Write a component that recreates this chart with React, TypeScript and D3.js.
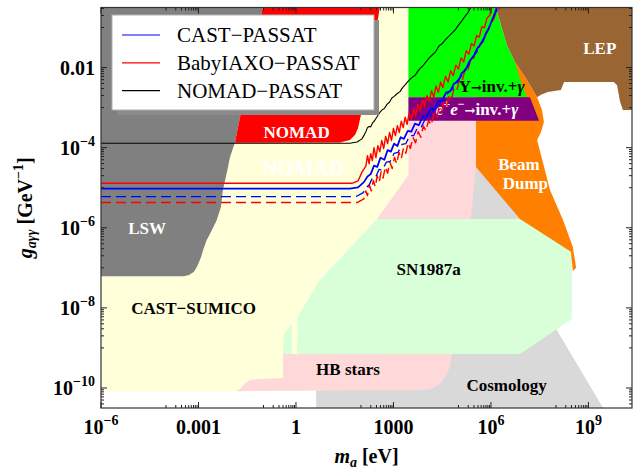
import * as d3 from "d3";

// all region / curve data are [log10(m_a / eV), log10(g_aγγ / GeV^-1)]
type Pt = [number, number];

const WIDTH = 634;
const HEIGHT = 475;
const plot = { left: 101, right: 632, top: 7.5, bottom: 408 };

const massExp: [number, number] = [-6, 10.34];
const couplingExp: [number, number] = [-10.5, -0.5];

const xMajor = [-6, -3, 0, 3, 6, 9];
const xTickText: [string, string][] = [
  ["10", "−6"],
  ["0.001", ""],
  ["1", ""],
  ["1000", ""],
  ["10", "6"],
  ["10", "9"],
];
const yMajor = [-10, -8, -6, -4, -2, 0];
const yTickText: [string, string][] = [
  ["10", "−10"],
  ["10", "−8"],
  ["10", "−6"],
  ["10", "−4"],
  ["0.01", ""],
  ["", ""],
];

// excluded regions
const cosmology: Pt[] = [
  [0.62, -10.5], [0.62, -9.8], [5.54, -4.06], [6.92, -5.78], [7.75, -8.18], [9.45, -10.5],
];
const castSumico: Pt[] = [
  [-6, -0.5], [3.46, -0.5], [3.46, -4.68], [2.49, -5.78], [0.74, -7.3], [0.06, -8.2],
  [0.03, -9.75], [-1.42, -9.8], [-1.72, -10.08], [-6, -10.08],
];
const hbStars: Pt[] = [
  [-1.82, -10.08], [-1.69, -10.0], [-1.57, -9.88], [-1.42, -9.8], [-1.2, -9.78],
  [-0.4, -9.75], [-0.4, -9.15], [4.8, -9.15], [4.74, -9.45], [4.62, -9.7],
  [4.43, -9.9], [4.12, -10.03], [3.82, -10.05], [-1.82, -10.08],
];
const pinkUpper: Pt[] = [
  [3.46, -2.74], [5.54, -2.74], [5.54, -4.48], [5.38, -5.78], [2.49, -5.78], [3.46, -4.68],
];
const sn1987a: Pt[] = [
  [-0.4, -9.15], [6.89, -9.15], [8.49, -8.28], [8.49, -6.56], [6.89, -5.78],
  [2.49, -5.78], [0.74, -7.3], [0.06, -8.2], [0.03, -9.15], [-0.12, -9.15],
  [-0.12, -8.4], [-0.37, -8.65],
];
const lsw: Pt[] = [
  [-6, -0.5], [-1.02, -0.5], [-1.72, -3.23], [-1.88, -3.88], [-2.03, -4.23],
  [-2.13, -4.63], [-2.25, -5.06], [-2.31, -5.48], [-2.44, -5.81], [-2.59, -6.06],
  [-2.75, -6.31], [-2.86, -6.56], [-2.92, -6.73], [-2.98, -6.85], [-3.05, -6.98],
  [-3.14, -7.1], [-3.29, -7.18], [-3.45, -7.21], [-6, -7.21],
];
const nomad: Pt[] = [
  [-1.02, -0.5], [2.58, -0.5], [2.12, -2.81], [2.0, -3.18], [1.91, -3.51],
  [1.82, -3.68], [1.66, -3.81], [1.35, -3.87], [-1.88, -3.88], [-1.72, -3.23],
];
const beamDump: Pt[] = [
  [5.54, -2.74], [6.43, -1.56], [6.74, -1.86], [7.11, -2.31], [7.42, -2.74],
  [7.57, -3.06], [7.63, -3.36], [7.54, -3.61], [7.42, -3.81], [7.82, -5.06],
  [8.22, -5.81], [8.52, -6.48], [8.62, -7.0], [8.52, -7.08], [8.46, -6.6],
  [6.89, -5.78], [5.54, -4.48],
];
const upsilon: Pt[] = [
  [3.46, -0.5], [6.15, -0.5], [6.49, -1.44], [6.74, -1.86], [6.9, -2.31],
  [7.11, -2.74], [3.46, -2.74],
];
const eeInv: Pt[] = [
  [3.46, -2.74], [7.2, -2.74], [7.48, -3.33], [3.46, -3.33],
];
const lep: Pt[] = [
  [6.15, -0.5], [10.34, -0.5], [10.34, -3.06], [10.06, -3.06], [9.97, -2.84],
  [9.88, -2.44], [9.78, -2.36], [8.25, -2.36], [8.15, -2.56], [7.75, -2.61],
  [7.54, -2.68], [7.42, -2.74], [7.11, -2.31], [6.74, -1.86], [6.49, -1.44],
];

// PASSAT projections
const castPassat: Pt[] = [
  [-6, -5.02], [1.66, -5.02], [1.91, -4.99], [2.09, -4.86], [2.2, -4.72], [2.3, -4.66],
  [2.4, -4.45], [2.5, -4.48], [2.6, -4.25], [2.72, -4.3], [2.82, -4.06], [2.92, -4.1],
  [3.02, -3.9], [3.12, -3.96], [3.22, -3.74], [3.32, -3.78], [3.44, -3.58], [3.55, -3.6],
  [3.66, -3.4], [3.78, -3.44], [3.9, -3.22], [4.02, -3.24], [4.14, -3.02], [4.26, -3.04],
  [4.38, -2.84], [4.5, -2.82], [4.62, -2.62], [4.74, -2.6], [4.86, -2.4], [4.98, -2.36],
  [5.1, -2.14], [5.22, -2.06], [5.34, -1.84], [5.46, -1.72], [5.58, -1.52], [5.7, -1.4],
  [5.82, -1.2], [5.94, -1.0], [6.04, -0.8], [6.12, -0.64], [6.18, -0.5],
];
const castPassatDashed: Pt[] = [
  [-6, -5.22], [1.85, -5.22], [2.06, -5.13], [2.16, -5.0], [2.26, -4.92], [2.36, -4.74],
  [2.46, -4.72], [2.56, -4.54], [2.66, -4.56], [2.78, -4.36], [2.9, -4.34], [3.02, -4.14],
  [3.14, -4.12], [3.26, -3.92], [3.38, -3.9], [3.5, -3.7], [3.62, -3.7], [3.74, -3.5],
  [3.86, -3.48], [3.98, -3.28], [4.1, -3.26], [4.22, -3.06], [4.34, -3.04], [4.46, -2.84],
  [4.58, -2.8], [4.7, -2.6], [4.82, -2.54], [4.94, -2.34], [5.06, -2.26], [5.18, -2.06],
  [5.3, -1.96], [5.42, -1.76], [5.54, -1.64], [5.66, -1.44], [5.78, -1.3], [5.9, -1.08],
  [6.0, -0.9], [6.1, -0.7], [6.22, -0.5],
];
const babyIaxoPassat: Pt[] = [
  [-6, -4.89], [1.72, -4.89], [1.91, -4.83], [2.03, -4.61], [2.15, -4.46], [2.2, -4.2],
  [2.25, -4.4], [2.3, -4.15], [2.35, -4.32], [2.4, -4.0], [2.46, -4.25], [2.52, -3.95],
  [2.58, -4.1], [2.64, -3.82], [2.7, -4.02], [2.76, -3.72], [2.82, -3.9], [2.88, -3.62],
  [2.94, -3.82], [3.0, -3.52], [3.06, -3.7], [3.12, -3.45], [3.18, -3.62], [3.24, -3.34],
  [3.3, -3.5], [3.36, -3.24], [3.42, -3.42], [3.48, -3.14], [3.55, -3.3], [3.62, -3.02],
  [3.68, -3.2], [3.75, -2.92], [3.82, -3.08], [3.89, -2.8], [3.96, -2.98], [4.03, -2.7],
  [4.1, -2.84], [4.17, -2.58], [4.24, -2.74], [4.31, -2.46], [4.38, -2.62], [4.45, -2.36],
  [4.52, -2.5], [4.6, -2.22], [4.68, -2.36], [4.76, -2.08], [4.84, -2.2], [4.92, -1.94],
  [5.0, -2.04], [5.08, -1.76], [5.16, -1.86], [5.24, -1.58], [5.32, -1.66], [5.4, -1.4],
  [5.48, -1.46], [5.56, -1.2], [5.64, -1.24], [5.72, -0.98], [5.8, -1.0], [5.88, -0.76],
  [5.96, -0.7], [6.02, -0.5],
];
const babyIaxoPassatDashed: Pt[] = [
  [-6, -5.37], [1.88, -5.37], [2.09, -5.28], [2.15, -5.08], [2.2, -5.2], [2.26, -4.94],
  [2.32, -5.08], [2.38, -4.82], [2.44, -4.98], [2.5, -4.7], [2.56, -4.86], [2.62, -4.6],
  [2.68, -4.76], [2.75, -4.48], [2.82, -4.64], [2.89, -4.36], [2.96, -4.52], [3.03, -4.24],
  [3.1, -4.4], [3.17, -4.12], [3.24, -4.28], [3.31, -4.0], [3.38, -4.14], [3.45, -3.88],
  [3.52, -4.02], [3.6, -3.74], [3.68, -3.88], [3.76, -3.6], [3.84, -3.74], [3.92, -3.46],
  [4.0, -3.58], [4.08, -3.32], [4.16, -3.44], [4.24, -3.16], [4.32, -3.28], [4.4, -3.0],
  [4.48, -3.1], [4.56, -2.84], [4.64, -2.94], [4.72, -2.66], [4.8, -2.74], [4.88, -2.48],
  [4.96, -2.54], [5.04, -2.28], [5.12, -2.32], [5.2, -2.06], [5.28, -2.1], [5.36, -1.84],
  [5.44, -1.86], [5.52, -1.6], [5.6, -1.62], [5.68, -1.38], [5.76, -1.36], [5.84, -1.12],
  [5.92, -1.06], [6.0, -0.88], [6.08, -0.8], [6.16, -0.62], [6.22, -0.6], [6.28, -0.5],
];
const nomadPassat: Pt[] = [
  [-6, -3.89], [1.66, -3.89], [1.88, -3.86], [2.03, -3.78], [2.1, -3.68], [2.15, -3.6],
  [2.2, -3.5], [2.25, -3.47], [2.3, -3.48], [2.36, -3.38], [2.43, -3.31], [2.5, -3.22],
  [2.58, -3.12], [2.66, -3.05], [2.72, -3.02], [2.8, -2.92], [2.88, -2.86], [2.95, -2.76],
  [3.02, -2.72], [3.1, -2.66], [3.2, -2.6], [3.28, -2.5], [3.35, -2.44], [3.42, -2.37],
  [3.5, -2.3], [3.58, -2.24], [3.66, -2.2], [3.74, -2.1], [3.82, -2.02], [3.9, -1.96],
  [4.0, -1.86], [4.1, -1.76], [4.2, -1.68], [4.3, -1.6], [4.4, -1.46], [4.5, -1.4],
  [4.6, -1.3], [4.7, -1.22], [4.8, -1.14], [4.9, -1.06], [5.0, -0.94], [5.1, -0.84],
  [5.2, -0.72], [5.3, -0.62], [5.38, -0.5],
];

const regions = [
  { name: "cosmology", pts: cosmology, color: "#d9d9d9" },
  { name: "cast", pts: castSumico, color: "#ffffd9" },
  { name: "hb", pts: hbStars, color: "#ffd9d9" },
  { name: "pink", pts: pinkUpper, color: "#ffd9d9" },
  { name: "sn", pts: sn1987a, color: "#d9ffd9" },
  { name: "lsw", pts: lsw, color: "#808080" },
  { name: "nomad", pts: nomad, color: "#ff0000" },
  { name: "beam", pts: beamDump, color: "#ff8000" },
  { name: "upsilon", pts: upsilon, color: "#00ff00" },
  { name: "ee", pts: eeInv, color: "#800080" },
  { name: "lep", pts: lep, color: "#996633" },
];

const curves = [
  { pts: nomadPassat, color: "#000000", dash: "", w: 1.1 },
  { pts: babyIaxoPassatDashed, color: "#ff0000", dash: "10,5", w: 1.4 },
  { pts: babyIaxoPassat, color: "#ff0000", dash: "", w: 1.4 },
  { pts: castPassatDashed, color: "#0000ff", dash: "10,5", w: 1.3 },
  { pts: castPassat, color: "#0000ff", dash: "", w: 1.8 },
];

const legendItems = [
  { label: "CAST−PASSAT", color: "#0000ff" },
  { label: "BabyIAXO−PASSAT", color: "#ff0000" },
  { label: "NOMAD−PASSAT", color: "#000000" },
];

type Label = { text: string; at: Pt; fill: string; size: number };
const regionLabels: Label[] = [
  { text: "LSW", at: [-4.58, -6.16], fill: "#ffffff", size: 17 },
  { text: "NOMAD", at: [0.02, -3.75], fill: "#ffffff", size: 17 },
  { text: "NOMAD", at: [0.22, -4.68], fill: "#ffffff", size: 21 },
  { text: "CAST−SUMICO", at: [-3.15, -8.15], fill: "#000000", size: 17 },
  { text: "SN1987a", at: [4.08, -7.18], fill: "#000000", size: 17 },
  { text: "HB stars", at: [1.6, -9.68], fill: "#000000", size: 17 },
  { text: "Cosmology", at: [6.48, -10.08], fill: "#000000", size: 17 },
  { text: "Beam", at: [6.86, -4.56], fill: "#ffffff", size: 17 },
  { text: "Dump", at: [7.06, -5.03], fill: "#ffffff", size: 17 },
  { text: "LEP", at: [9.35, -1.66], fill: "#ffffff", size: 17 },
];
const upsilonLabelAt: Pt = [6.02, -2.61];
const eeLabelAt: Pt = [5.57, -3.18];

const FONT = "'Liberation Serif', 'Times New Roman', serif";

export default function App() {
  const x = d3
    .scaleLog()
    .domain([10 ** massExp[0], 10 ** massExp[1]])
    .range([plot.left, plot.right]);
  const y = d3
    .scaleLog()
    .domain([10 ** couplingExp[0], 10 ** couplingExp[1]])
    .range([plot.bottom, plot.top]);

  const px = (p: Pt) => x(10 ** p[0]);
  const py = (p: Pt) => y(10 ** p[1]);
  const line = d3.line<Pt>().x(px).y(py);
  const poly = (pts: Pt[]) => line(pts) + "Z";

  const inX = (e: number) => e >= massExp[0] - 1e-9 && e <= massExp[1];
  const inY = (e: number) => e >= couplingExp[0] - 1e-9 && e <= couplingExp[1];
  const minorOf = (majors: number[], ok: (e: number) => boolean) =>
    majors
      .flatMap((k) => d3.range(1, 10).map((j) => Math.log10(j) + k - 1))
      .filter(ok);
  const xMinor = minorOf(xMajor, inX);
  const yMinor = minorOf(yMajor, inY);

  const majorLen = 6;
  const minorLen = 3;

  return (
    <svg
      width={WIDTH}
      height={HEIGHT}
      style={{ position: "absolute", left: 0, top: 0, background: "#fff" }}
      fontFamily={FONT}
    >
      <defs>
        <clipPath id="plotClip">
          <rect
            x={plot.left}
            y={plot.top}
            width={plot.right - plot.left}
            height={plot.bottom - plot.top}
          />
        </clipPath>
      </defs>

      <g clipPath="url(#plotClip)">
        {regions.map((r) => (
          <path key={r.name} d={poly(r.pts)} fill={r.color} stroke="none" />
        ))}

        {regionLabels.map((l, i) => (
          <text
            key={i}
            x={px(l.at)}
            y={py(l.at)}
            textAnchor="middle"
            fontWeight="bold"
            fontSize={l.size}
            fill={l.fill}
          >
            {l.text}
          </text>
        ))}
        <text
          x={px(upsilonLabelAt)}
          y={py(upsilonLabelAt)}
          textAnchor="middle"
          fontWeight="bold"
          fontSize={17}
          fill="#000"
        >
          Υ<tspan fontFamily="'DejaVu Serif'" fontSize={13}>→</tspan>inv.+
          <tspan fontStyle="italic">γ</tspan>
        </text>
        <text
          x={px(eeLabelAt)}
          y={py(eeLabelAt)}
          textAnchor="middle"
          fontWeight="bold"
          fontSize={17}
          fill="#fff"
        >
          <tspan fontStyle="italic">e</tspan>
          <tspan fontSize={12} dy={-7}>+</tspan>
          <tspan fontStyle="italic" dy={7}>e</tspan>
          <tspan fontSize={12} dy={-7}>−</tspan>
          <tspan dy={7} fontFamily="'DejaVu Serif'" fontSize={13}>→</tspan>
          <tspan>inv.+</tspan>
          <tspan fontStyle="italic">γ</tspan>
        </text>

        {curves.map((c, i) => (
          <path
            key={i}
            d={line(c.pts) ?? ""}
            fill="none"
            stroke={c.color}
            strokeWidth={c.w}
            strokeDasharray={c.dash || undefined}
            strokeLinejoin="round"
          />
        ))}
      </g>

      {/* legend */}
      <g>
        <rect x={117} y={20} width={262} height={95} fill="#8a8a8a" />
        <rect x={112} y={15} width={262} height={95} fill="#fff" stroke="#b0b0b0" strokeWidth={1} />
        {legendItems.map((it, i) => (
          <g key={it.label} transform={`translate(0,${35 + i * 27.8})`}>
            <line x1={122} x2={160} y1={0} y2={0} stroke={it.color} strokeWidth={1.2} />
            <text x={177} y={7} fontSize={21} fill="#000">
              {it.label}
            </text>
          </g>
        ))}
      </g>

      {/* frame */}
      <rect
        x={plot.left}
        y={plot.top}
        width={plot.right - plot.left}
        height={plot.bottom - plot.top}
        fill="none"
        stroke="#333"
        strokeWidth={1.2}
      />

      {/* ticks */}
      <g stroke="#222" strokeWidth={1}>
        {xMajor.filter(inX).map((e) => (
          <g key={`xM${e}`}>
            <line x1={x(10 ** e)} x2={x(10 ** e)} y1={plot.bottom} y2={plot.bottom - majorLen} />
            <line x1={x(10 ** e)} x2={x(10 ** e)} y1={plot.top} y2={plot.top + majorLen} />
          </g>
        ))}
        {xMinor.map((e) => (
          <g key={`xm${e}`}>
            <line x1={x(10 ** e)} x2={x(10 ** e)} y1={plot.bottom} y2={plot.bottom - minorLen} />
            <line x1={x(10 ** e)} x2={x(10 ** e)} y1={plot.top} y2={plot.top + minorLen} />
          </g>
        ))}
        {yMajor.filter(inY).map((e) => (
          <g key={`yM${e}`}>
            <line x1={plot.left} x2={plot.left + majorLen} y1={y(10 ** e)} y2={y(10 ** e)} />
            <line x1={plot.right} x2={plot.right - majorLen} y1={y(10 ** e)} y2={y(10 ** e)} />
          </g>
        ))}
        {yMinor.map((e) => (
          <g key={`ym${e}`}>
            <line x1={plot.left} x2={plot.left + minorLen} y1={y(10 ** e)} y2={y(10 ** e)} />
            <line x1={plot.right} x2={plot.right - minorLen} y1={y(10 ** e)} y2={y(10 ** e)} />
          </g>
        ))}
      </g>

      {/* tick labels */}
      <g fontWeight="bold" fill="#000">
        {xMajor.map((e, i) =>
          inX(e) ? (
            <text key={`xl${e}`} x={x(10 ** e)} y={434} textAnchor="middle" fontSize={20}>
              {xTickText[i][0]}
              {xTickText[i][1] && (
                <tspan fontSize={14} dy={-9}>
                  {xTickText[i][1]}
                </tspan>
              )}
            </text>
          ) : null
        )}
        {yMajor.map((e, i) =>
          inY(e) && yTickText[i][0] ? (
            <text key={`yl${e}`} x={95} y={y(10 ** e) + 7} textAnchor="end" fontSize={20}>
              {yTickText[i][0]}
              {yTickText[i][1] && (
                <tspan fontSize={14} dy={-9}>
                  {yTickText[i][1]}
                </tspan>
              )}
            </text>
          ) : null
        )}
      </g>

      {/* axis titles */}
      <text
        x={(plot.left + plot.right) / 2}
        y={463}
        textAnchor="middle"
        fontSize={20}
        fontWeight="bold"
      >
        <tspan fontStyle="italic">m</tspan>
        <tspan fontStyle="italic" fontSize={14} dy={4}>a</tspan>
        <tspan dy={-4}> [eV]</tspan>
      </text>
      <text
        transform={`translate(32,${(plot.top + plot.bottom) / 2}) rotate(-90)`}
        textAnchor="middle"
        fontSize={20}
        fontWeight="bold"
      >
        <tspan fontStyle="italic">g</tspan>
        <tspan fontStyle="italic" fontSize={14} dy={4}>aγγ</tspan>
        <tspan dy={-4}> [GeV</tspan>
        <tspan fontSize={14} dy={-9}>−1</tspan>
        <tspan dy={9}>]</tspan>
      </text>
    </svg>
  );
}
